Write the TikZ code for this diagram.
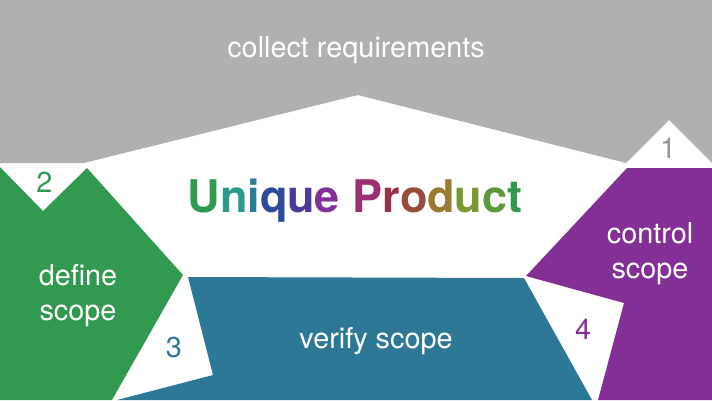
\documentclass[tikz,border=0pt]{standalone}
\usepackage{fontspec}
\setmainfont{TeX Gyre Heros}
\definecolor{mygray}{RGB}{176,176,176}
\definecolor{mygreen}{RGB}{49,154,80}
\definecolor{myblue}{RGB}{46,120,151}
\definecolor{mypurple}{RGB}{132,47,149}
\definecolor{mynumgray}{RGB}{150,150,150}
\tikzset{
  steptext/.style={font=\fontsize{16.4}{20}\selectfont,text=white,anchor=base,inner sep=0pt},
  stepnum/.style={font=\fontsize{16.4}{20}\selectfont,anchor=base,inner sep=0pt},
}
\newcommand{\uc}[2]{\textcolor[RGB]{#1}{#2}}
\begin{document}
\begin{tikzpicture}[x=0.02cm,y=-0.02cm]
  \useasboundingbox (0,0) rectangle (712,400);
  % the four scope blocks
  \fill[mygray] (0,0) -- (712,0) -- (712,163) -- (669,120) -- (626,163)
    -- (358,95) -- (84,163) -- (0,163) -- cycle;
  \fill[mygreen] (0,167) -- (43,211) -- (87,168) -- (183,275) -- (112,400)
    -- (0,400) -- cycle;
  \fill[myblue] (188,277) -- (524,278) -- (592,400) -- (117,400)
    -- (213,375) -- cycle;
  \fill[mypurple] (627,168) -- (712,168) -- (712,400) -- (598,400)
    -- (624,303) -- (526,276) -- cycle;
  % labels
  \node[steptext] (collect) at (356,57) {collect requirements};
  \node[steptext] (defineA) at (78,285) {define};
  \node[steptext] (defineB) at (78,320) {scope};
  \node[steptext] (verify) at (376,348) {verify scope};
  \node[steptext] (controlA) at (650,243) {control};
  \node[steptext] (controlB) at (650,278) {scope};
  % step numbers
  \node[stepnum,text=mynumgray] (one) at (668,158) {1};
  \node[stepnum,text=mygreen] (two) at (44.5,192) {2};
  \node[stepnum,text=myblue] (three) at (174,357) {3};
  \node[stepnum,text=mypurple] (four) at (583,339) {4};
  % title in shifting colours
  \node[anchor=base,inner sep=0pt,font=\fontsize{25.6}{30}\selectfont\bfseries]
    (product) at (355,212) {\uc{48,154,80}{U}\uc{42,154,138}{n}\uc{42,122,154}{i}%
    \uc{46,74,154}{q}\uc{74,58,154}{u}\uc{131,48,148}{e} \uc{154,48,112}{P}%
    \uc{154,48,72}{r}\uc{154,74,58}{o}\uc{154,122,48}{d}\uc{122,154,48}{u}%
    \uc{90,154,58}{c}\uc{48,153,78}{t}};
\end{tikzpicture}
\end{document}
